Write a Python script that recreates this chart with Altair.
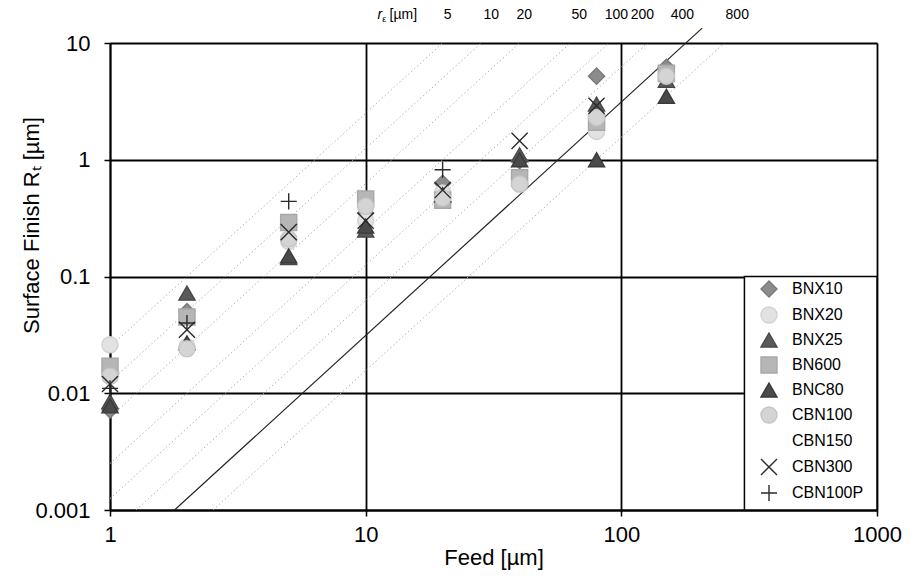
import altair as alt
import pandas as pd
import math

FONT = "Liberation Sans Narrow, Arial Narrow, Liberation Sans, Arial, sans-serif"

# ---- data ----
feeds = [1, 2, 5, 10, 20, 40, 80, 150]
series = ["BNX10", "BNX20", "BNX25", "BN600", "BNC80", "CBN100", "CBN150", "CBN300", "CBN100P"]

bnx10 = [0.0072, 0.050, 0.28, 0.35, 0.63, 0.98, 5.2, 6.2]
bnx20 = [0.026, 0.025, 0.20, 0.30, 0.52, 0.62, 1.75, 5.0]
bnx25 = [0.0085, 0.072, 0.145, 0.25, 0.50, 1.10, 3.0, 4.8]
bn600 = [0.017, 0.045, 0.29, 0.46, 0.45, 0.70, 2.1, 5.5]
bnc80 = [0.0078, 0.027, 0.15, 0.27, 0.50, 1.00, 1.0, 3.5]
cbn100 = [0.014, 0.024, 0.21, 0.40, 0.47, 0.62, 2.3, 5.2]
cbn150 = [None, None, None, None, None, None, None, None]
cbn300 = [0.012, 0.035, 0.24, 0.30, 0.55, 1.45, 2.9, None]
cbn100p = [0.011, 0.040, 0.44, None, 0.82, None, None, None]

all_values = [bnx10, bnx20, bnx25, bn600, bnc80, cbn100, cbn150, cbn300, cbn100p]

# corner-radius lines  Rt = f^2 / (8 r)
r_values = [5, 10, 20, 50, 100, 200, 400, 800]
r_solid = 400
r_label_feed = [20.9, 31.0, 41.7, 68.5, 95.6, 120.8, 173.4, 284]
r_title_parts = ["r", "ε", "[µm]"]
r_title_feed = [11.36, 11.83, 12.4]

legend_box_feed = [303, 1000]
legend_box_rt = [0.001, 0.1]

# ---- styles ----
X_PATH = "M-1,-1L1,1M-1,1L1,-1"
PLUS_PATH = "M-1,0L1,0M0,-1L0,1"
shapes = ["diamond", "circle", "triangle-up", "square", "triangle-up", "circle", "circle", X_PATH, PLUS_PATH]
fills = ["#8c8c8c", "#e2e2e2", "#5a5a5a", "#b6b6b6", "#4a4a4a", "#d4d4d4", "#ffffff", "transparent", "transparent"]
strokes = ["#7a7a7a", "#d2d2d2", "#484848", "#a8a8a8", "#3a3a3a", "#c6c6c6", "#ffffff", "#2a2a2a", "#2a2a2a"]

# ---- tables ----
rows = []
for s, vals in zip(series, all_values):
    for f, v in zip(feeds, vals):
        if v is not None:
            rows.append({"series": s, "feed": f, "rt": v, "order": series.index(s)})
pts = pd.DataFrame(rows)

line_rows = []
for r in r_values:
    lo = max(1.0, math.sqrt(8 * r * 0.001))
    top_rt = 13.4 if r == r_solid else 10.0
    hi = min(1000.0, math.sqrt(8 * r * top_rt))
    for f in (lo, hi):
        line_rows.append({"r": r, "feed": f, "rt": f * f / (8 * r)})
lines = pd.DataFrame(line_rows)

rlab = pd.DataFrame({"feed": r_label_feed, "text": [str(r) for r in r_values]})
rtitle = pd.DataFrame({"feed": r_title_feed, "text": r_title_parts})
box = pd.DataFrame({"feed": [legend_box_feed[0]], "feed2": [legend_box_feed[1]],
                    "rt": [legend_box_rt[0]], "rt2": [legend_box_rt[1]]})

xscale = alt.Scale(type="log", domain=[1, 1000], nice=False)
yscale = alt.Scale(type="log", domain=[0.001, 10], nice=False)

xaxis = alt.Axis(values=[1, 10, 100, 1000], format="~g", title="Feed [µm]",
                 labelFont=FONT, labelFontSize=22, labelColor="black", labelPadding=8,
                 titleFont=FONT, titleFontSize=22, titleFontWeight="normal", titleColor="black",
                 titlePadding=2, tickSize=6, tickColor="black", tickWidth=1.5,
                 domainColor="black", domainWidth=1.8, grid=True, gridColor="black",
                 gridWidth=1.8, gridOpacity=1, labelFlush=False)
yaxis = alt.Axis(values=[0.001, 0.01, 0.1, 1, 10], format="~g", title="Surface Finish Rₜ [µm]",
                 labelFont=FONT, labelFontSize=22, labelColor="black", labelPadding=14,
                 titleFont=FONT, titleFontSize=22, titleFontWeight="normal", titleColor="black",
                 titleX=-79, titleY=182, titleAlign="center", titleBaseline="middle",
                 tickSize=6, tickColor="black", tickWidth=1.5,
                 domainColor="black", domainWidth=1.8, grid=True, gridColor="black",
                 gridWidth=1.8, gridOpacity=1, labelFlush=False)

base_grid = alt.Chart(lines).mark_line(opacity=0).encode(
    x=alt.X("feed:Q", scale=xscale, axis=xaxis),
    y=alt.Y("rt:Q", scale=yscale, axis=yaxis),
    detail="r:N",
)

dotted = alt.Chart(lines).transform_filter(f"datum.r != {r_solid}").mark_line(
    color="#b3b3b3", strokeDash=[1.5, 2.5], strokeWidth=1, clip=True
).encode(x="feed:Q", y="rt:Q", detail="r:N")

solid = alt.Chart(lines).transform_filter(f"datum.r == {r_solid}").mark_line(
    color="#222222", strokeWidth=1.2, clip=False
).encode(x="feed:Q", y="rt:Q", detail="r:N")

boxl = alt.Chart(box).mark_rect(fill="white", stroke="black", strokeWidth=1.5).encode(
    x="feed:Q", x2="feed2:Q", y="rt:Q", y2="rt2:Q")

leg = dict(title=None, orient="none", legendX=650, legendY=237, padding=0,
           labelFont=FONT, labelFontSize=16, labelColor="black", labelOffset=14,
           rowPadding=4, symbolSize=256, symbolStrokeWidth=1.4, symbolOpacity=1)

points = alt.Chart(pts).mark_point(size=260, opacity=1, strokeWidth=1.4, filled=False).encode(
    x="feed:Q", y="rt:Q",
    shape=alt.Shape("series:N", scale=alt.Scale(domain=series, range=shapes), legend=alt.Legend(**leg)),
    fill=alt.Fill("series:N", scale=alt.Scale(domain=series, range=fills), legend=alt.Legend(**leg)),
    stroke=alt.Stroke("series:N", scale=alt.Scale(domain=series, range=strokes), legend=alt.Legend(**leg)),
    order="order:Q",
)

rlabels = alt.Chart(rlab).mark_text(font=FONT, fontSize=14, color="black", align="center", baseline="middle").encode(
    x="feed:Q", y=alt.value(-28), text="text:N")

rt_r = alt.Chart(rtitle[rtitle.text == "r"]).mark_text(font=FONT, fontSize=14, fontStyle="italic", color="black",
                                                      align="center", baseline="middle").encode(
    x="feed:Q", y=alt.value(-28), text="text:N")
rt_e = alt.Chart(rtitle[rtitle.text == "ε"]).mark_text(font=FONT, fontSize=9, color="black",
                                                      align="center", baseline="middle").encode(
    x="feed:Q", y=alt.value(-24), text="text:N")
rt_u = alt.Chart(rtitle[rtitle.text == "[µm]"]).mark_text(font=FONT, fontSize=14, color="black",
                                                         align="left", baseline="middle").encode(
    x="feed:Q", y=alt.value(-28), text="text:N")

chart = alt.layer(base_grid, dotted, solid, boxl, points, rlabels, rt_r, rt_e, rt_u).properties(
    width=767, height=467,
    autosize=alt.AutoSizeParams(type="none"),
    padding={"left": 110, "top": 43, "right": 37, "bottom": 71},
).configure_view(stroke="black", strokeWidth=1.8).configure(background="white")

chart.save("out.html", embed_options={"renderer": "svg", "actions": False})
